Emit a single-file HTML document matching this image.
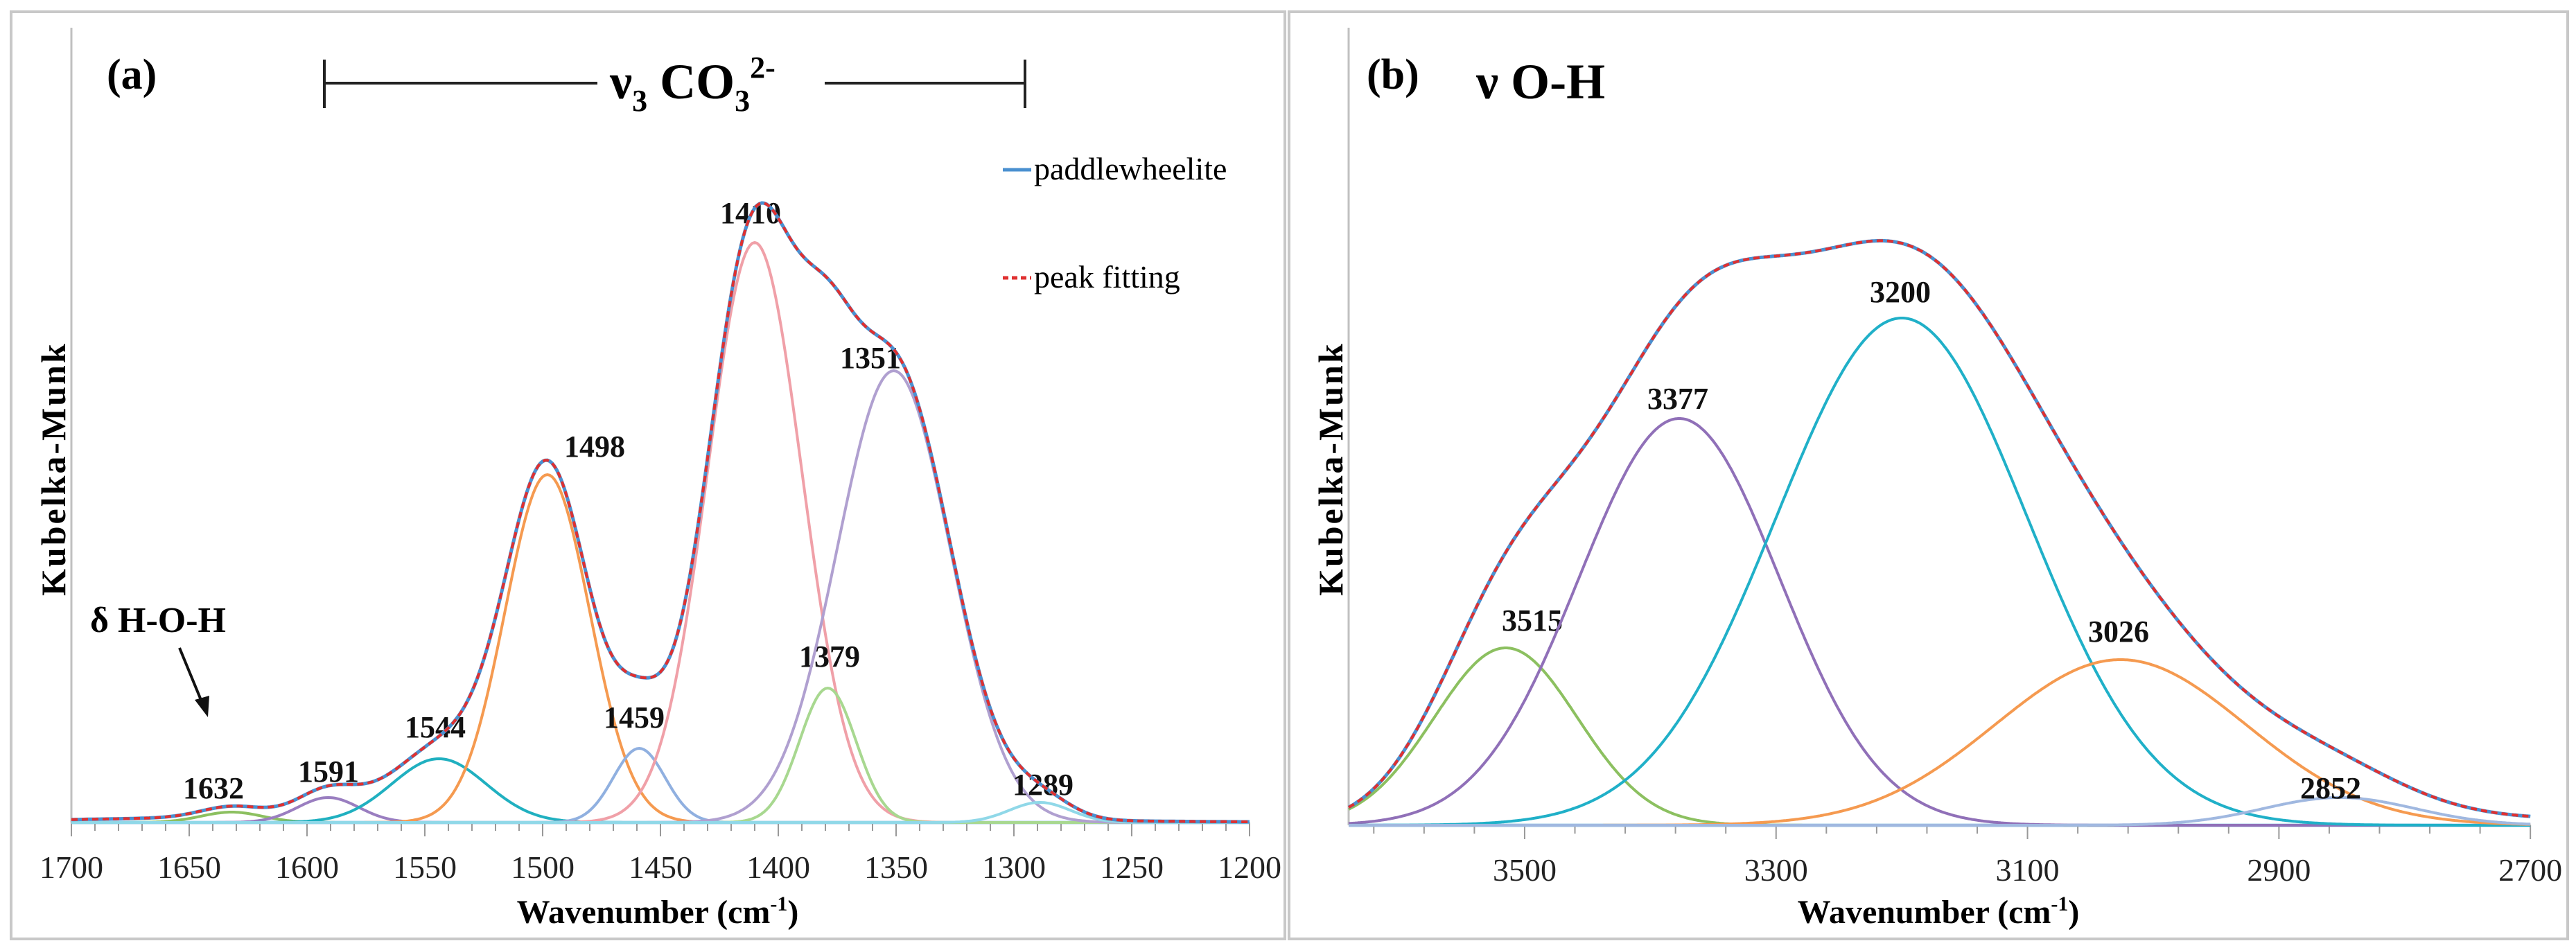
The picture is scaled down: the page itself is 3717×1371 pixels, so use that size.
<!DOCTYPE html>
<html><head><meta charset="utf-8"><style>
html,body{margin:0;padding:0;background:#fff;}
svg{display:block;font-family:"Liberation Serif",serif;}
</style></head><body>
<svg id="fig" width="3717" height="1371" viewBox="0 0 3717 1371" xmlns="http://www.w3.org/2000/svg">
<rect x="0" y="0" width="3717" height="1371" fill="#fff"/>
<g id="pa">
<rect x="16" y="17" width="1838" height="1338" fill="none" stroke="#c8c8c8" stroke-width="4"/>
<line x1="103" y1="40" x2="103" y2="1187" stroke="#c0c0c0" stroke-width="3"/>
<text x="154" y="128" font-size="62" font-weight="bold">(a)</text>
<g stroke="#222" stroke-width="4">
<line x1="468" y1="86" x2="468" y2="156"/><line x1="1479" y1="86" x2="1479" y2="156"/>
<line x1="468" y1="120" x2="862" y2="120"/><line x1="1190" y1="120" x2="1479" y2="120"/>
</g>
<text x="880" y="142" font-size="72" font-weight="bold">ν<tspan font-size="44" dy="18">3</tspan><tspan dy="-18"> CO</tspan><tspan font-size="44" dy="18">3</tspan><tspan font-size="44" dy="-48">2-</tspan></text>
<line x1="1447" y1="245" x2="1488" y2="245" stroke="#4a90d0" stroke-width="5"/>
<text x="1492" y="259" font-size="46">paddlewheelite</text>
<line x1="1447" y1="401" x2="1488" y2="401" stroke="#e03030" stroke-width="5" stroke-dasharray="8,5"/>
<text x="1492" y="415" font-size="46">peak fitting</text>
<text transform="translate(94,860) rotate(-90)" font-size="50" font-weight="bold" letter-spacing="3">Kubelka-Munk</text>
<text x="130" y="912" font-size="52" font-weight="bold">δ H-O-H</text>
<line x1="259" y1="935" x2="292" y2="1015" stroke="#111" stroke-width="4"/>
<polygon points="300,1035 281,1010 302,1004" fill="#111"/>
<text x="949" y="1332" font-size="48" font-weight="bold" text-anchor="middle">Wavenumber (cm<tspan font-size="30" dy="-18">-1</tspan><tspan dy="18">)</tspan></text>
</g>
<g id="pb">
<rect x="1860" y="17" width="1845" height="1338" fill="none" stroke="#c8c8c8" stroke-width="4"/>
<line x1="1946" y1="40" x2="1946" y2="1191" stroke="#c0c0c0" stroke-width="3"/>
<text x="1972" y="128" font-size="62" font-weight="bold">(b)</text>
<text x="2130" y="142" font-size="72" font-weight="bold">ν O-H</text>
<text transform="translate(1937,860) rotate(-90)" font-size="50" font-weight="bold" letter-spacing="3">Kubelka-Munk</text>
<text x="2797" y="1332" font-size="48" font-weight="bold" text-anchor="middle">Wavenumber (cm<tspan font-size="30" dy="-18">-1</tspan><tspan dy="18">)</tspan></text>
</g>
</svg>
<script>
// Panel A data
const aPeakCenters = [1632, 1591, 1544, 1498, 1459, 1410, 1379, 1351, 1289];
const aPeakHeights = [15, 36, 92, 502, 107, 837, 194, 652, 29];
const aPeakWidths = [13, 13, 20, 18, 11, 20, 12, 24, 13];
const aPeakColors = ["#8cc060", "#9a7ec0", "#20b0c0", "#f59a50", "#90b0e0", "#f0a0a8", "#a8d890", "#b0a0d0", "#90d8e8"];
const aLabelPos = [[308,1138],[474,1114],[628,1050],[858,645],[915,1036],[1083,308],[1197,948],[1256,517],[1505,1133]];
const aXTicks = [1700, 1650, 1600, 1550, 1500, 1450, 1400, 1350, 1300, 1250, 1200];
// Panel B data
const bPeakCenters = [3515, 3377, 3200, 3026, 2852];
const bPeakHeights = [256, 587, 732, 239, 40];
const bPeakWidths = [57, 80, 100, 100, 60];
const bPeakColors = ["#8cc060", "#9070b8", "#20b0c8", "#f59a50", "#a0b8e0"];
const bLabelPos = [[2211,896],[2421,576],[2742,422],[3057,912],[3363,1138]];
const bXTicks = [3500, 3300, 3100, 2900, 2700];

const NS = "http://www.w3.org/2000/svg";
function mk(tag, attrs, parent){const e=document.createElementNS(NS,tag);for(const k in attrs)e.setAttribute(k,attrs[k]);parent.appendChild(e);return e;}

function drawPanel(g, cfg){
  const xs = w => cfg.x0 + (cfg.w0 - w) * cfg.ppc;
  const ys = v => cfg.base - v;
  const gauss = (i,w) => cfg.h[i]*Math.exp(-((w-cfg.c[i])**2)/(2*cfg.s[i]**2));
  const bl = mk('line',{x1:cfg.xl,y1:cfg.base,x2:cfg.xr,y2:cfg.base,stroke:'#a8d0e8','stroke-width':5},g);
  
  
  for(let w=cfg.tickStart; w>=cfg.tickEnd; w-=cfg.minor){
    const major = cfg.ticks.includes(w);
    const t = mk('line',{x1:xs(w),y1:cfg.base,x2:xs(w),y2:cfg.base+(major?20:12),stroke:'#999','stroke-width':2},g);
    
    
  }
  cfg.ticks.forEach(w=>{
    const t = mk('text',{x:xs(w),y:cfg.base+80,'font-size':46,'text-anchor':'middle',fill:'#222'},g);
    t.textContent = w;
    
    
  });
  const pts = [];
  for(let w=cfg.wStartPlot; w>=cfg.wEndPlot; w-=1) pts.push(w);
  cfg.c.forEach((c,i)=>{
    let d='';
    pts.forEach((w,j)=>{d+=(j?'L':'M')+xs(w).toFixed(1)+','+ys(gauss(i,w)).toFixed(1);});
    const p = mk('path',{d:d,fill:'none',stroke:cfg.col[i],'stroke-width':4},g);
    
    
    const lp = cfg.lab[i];
    const t = mk('text',{x:lp[0],y:lp[1]+14,'font-size':44,'font-weight':'bold','text-anchor':'middle',fill:'#111'},g);
    t.textContent = c;
    
    
  });
  let d='';
  pts.forEach((w,j)=>{let s=cfg.off(w);cfg.c.forEach((c,i)=>s+=gauss(i,w));d+=(j?'L':'M')+xs(w).toFixed(1)+','+ys(s).toFixed(1);});
  const obs = mk('path',{d:d,fill:'none',stroke:'#4a90d0','stroke-width':5},g);
  
  
  const fit = mk('path',{d:d,fill:'none',stroke:'#e03030','stroke-width':4,'stroke-dasharray':'9,6'},g);
  
  
}

drawPanel(document.getElementById('pa'),{x0:103,w0:1700,ppc:3.4,base:1187,xl:103,xr:1803,
  tickStart:1700,tickEnd:1200,minor:10,ticks:aXTicks,wStartPlot:1700,wEndPlot:1200,
  c:aPeakCenters,h:aPeakHeights,s:aPeakWidths,col:aPeakColors,lab:aLabelPos,
  off:w=>14*Math.exp(-((w-1500)**2)/(2*130**2))});
drawPanel(document.getElementById('pb'),{x0:1946,w0:3640,ppc:1.814,base:1191,xl:1946,xr:3651,
  tickStart:3620,tickEnd:2700,minor:40,ticks:bXTicks,wStartPlot:3640,wEndPlot:2700,
  c:bPeakCenters,h:bPeakHeights,s:bPeakWidths,col:bPeakColors,lab:bLabelPos,
  off:w=>12*Math.exp(-((w-2850)**2)/(2*250**2))});
</script>
</body></html>
